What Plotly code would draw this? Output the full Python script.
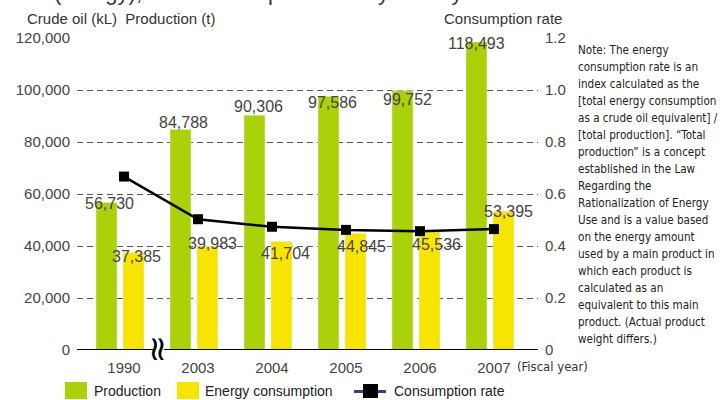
import plotly.graph_objects as go

# ---- data ----
years = ["1990", "2003", "2004", "2005", "2006", "2007"]
production = [56730, 84788, 90306, 97586, 99752, 118493]
energy_consumption = [37385, 39983, 41704, 44845, 45536, 53395]
consumption_rate = [0.667, 0.503, 0.474, 0.462, 0.457, 0.465]

left_ticks = [0, 20000, 40000, 60000, 80000, 100000, 120000]
right_ticks = [0, 0.2, 0.4, 0.6, 0.8, 1.0, 1.2]
right_ticktext = ["0", "0.2", "0.4", "0.6", "0.8", "1.0", "1.2"]

note_lines = [
    "Note: The energy",
    "consumption rate is an",
    "index calculated as the",
    "[total energy consumption",
    "as a crude oil equivalent] /",
    "[total production]. \u201cTotal",
    "production\u201d is a concept",
    "established in the Law",
    "Regarding the",
    "Rationalization of Energy",
    "Use and is a value based",
    "on the energy amount",
    "used by a main product in",
    "which each product is",
    "calculated as an",
    "equivalent to this main",
    "product. (Actual product",
    "weight differs.)",
]

# ---- styling / layout ----
W, H = 725, 400
L, R, T, B = 77, 187, 38, 50
PW, PH = W - L - R, H - T - B

GREEN = "#abd108"
YELLOW = "#f7e500"
FONT = "Liberation Sans, Arial, sans-serif"
NARROW = "DejaVu Sans Condensed, sans-serif"
TXT = "#444444"

# label nudges in pixels (dx, dy) relative to each bar's value
prod_dx = [-14, -14.5, -13, -13, -12, -17.5]
prod_dy = [-1, 7, 8.5, -6.5, -8.5, -2]
cons_dx = [13, 14.5, 14, 15.5, 17, 15]
cons_dy = [-4, 3, -12, -13, -13, -0.5]


def px(x):
    return (x - L) / PW


def py(y):
    return (H - B - y) / PH


xs = list(range(len(years)))

fig = go.Figure()
fig.add_trace(go.Bar(
    x=xs, y=production, name="Production", marker_color=GREEN,
    offset=-0.378, width=0.284, hoverinfo="y", showlegend=False,
))
fig.add_trace(go.Bar(
    x=xs, y=energy_consumption, name="Energy consumption", marker_color=YELLOW,
    offset=-0.0135, width=0.284, hoverinfo="y", showlegend=False,
))
fig.add_trace(go.Scatter(
    x=xs, y=consumption_rate, yaxis="y2", mode="lines+markers",
    name="Consumption rate", line=dict(color="black", width=2.5),
    marker=dict(symbol="square", size=10, color="black"), showlegend=False,
))

annotations = []
for i, v in enumerate(production):
    annotations.append(dict(
        x=i, y=v, text=f"{v:,}", showarrow=False, xshift=prod_dx[i], yshift=prod_dy[i],
        font=dict(family=FONT, size=16, color=TXT), yanchor="middle",
    ))
for i, v in enumerate(energy_consumption):
    annotations.append(dict(
        x=i, y=v, text=f"{v:,}", showarrow=False, xshift=cons_dx[i], yshift=cons_dy[i],
        font=dict(family=FONT, size=16, color=TXT), yanchor="middle",
    ))

# axis titles
annotations += [
    dict(xref="paper", yref="paper", x=px(25), y=py(18.5), xanchor="left", yanchor="middle",
         text="Crude oil (kL)  Production (t)", showarrow=False,
         font=dict(family=FONT, size=15, color="#333333")),
    dict(xref="paper", yref="paper", x=px(564), y=py(18.5), xanchor="right", yanchor="middle",
         text="Consumption rate", showarrow=False,
         font=dict(family=FONT, size=15, color="#333333")),
    dict(xref="paper", yref="paper", x=px(52), y=py(-8), xanchor="left", yanchor="middle",
         text="(energy), and consumption rate by fiscal year", showarrow=False,
         font=dict(family=FONT, size=22, color="#333333")),
    dict(xref="paper", yref="paper", x=px(515), y=py(366), xanchor="left", yanchor="middle",
         text="(Fiscal year)", showarrow=False,
         font=dict(family=NARROW, size=13, color="#333333")),
    # axis break mark between 1990 and 2003
    dict(xref="x", yref="paper", x=0.473, y=0, xanchor="center", yanchor="middle",
         text="\u2248", textangle=90, showarrow=False,
         font=dict(family="DejaVu Sans", size=34, color="black")),
]

# note block
for k, line in enumerate(note_lines):
    annotations.append(dict(
        xref="paper", yref="paper", x=px(576), y=py(50 + 17 * k), xanchor="left", yanchor="middle",
        text=line, showarrow=False, font=dict(family=NARROW, size=11.6, color="#222222"),
    ))

# legend text
for label, x0 in [("Production", 92), ("Energy consumption", 203), ("Consumption rate", 392)]:
    annotations.append(dict(
        xref="paper", yref="paper", x=px(x0), y=py(391), xanchor="left", yanchor="middle",
        text=label, showarrow=False, font=dict(family=FONT, size=14, color="#222222"),
    ))

shapes = [
    # solid base line
    dict(type="line", xref="paper", yref="y", x0=0, x1=1, y0=0, y1=0,
         line=dict(color="black", width=2), layer="above"),
    # gap in the base line under the break mark
    dict(type="rect", xref="paper", yref="paper", x0=px(154), x1=px(164), y0=py(353), y1=py(347),
         fillcolor="white", line=dict(width=0), layer="above"),
    # legend swatches
    dict(type="rect", xref="paper", yref="paper", x0=px(65), x1=px(87), y0=py(382), y1=py(399),
         fillcolor=GREEN, line=dict(width=0)),
    dict(type="rect", xref="paper", yref="paper", x0=px(177), x1=px(199), y0=py(382), y1=py(399),
         fillcolor=YELLOW, line=dict(width=0)),
    dict(type="line", xref="paper", yref="paper", x0=px(354), x1=px(386), y0=py(391.5), y1=py(391.5),
         line=dict(color="#3b3b8f", width=3)),
    dict(type="rect", xref="paper", yref="paper", x0=px(363), x1=px(378), y0=py(384), y1=py(398),
         fillcolor="black", line=dict(width=0)),
]

fig.update_layout(
    width=W, height=H, autosize=False,
    margin=dict(l=L, r=R, t=T, b=B, pad=0),
    paper_bgcolor="white", plot_bgcolor="white",
    barmode="overlay", showlegend=False,
    xaxis=dict(
        range=[-0.635, 5.595], tickvals=xs, ticktext=years, showgrid=False,
        zeroline=False, showline=False, ticks="", fixedrange=True, ticklabelstandoff=7,
        tickfont=dict(family=FONT, size=15, color=TXT),
    ),
    yaxis=dict(
        range=[0, 120000], tickvals=left_ticks, tickformat=",", showgrid=True,
        gridcolor="#555555", gridwidth=1, griddash="6px,4px", zeroline=False,
        showline=False, ticks="", ticklabelstandoff=6, fixedrange=True,
        tickfont=dict(family=FONT, size=15, color=TXT),
    ),
    yaxis2=dict(
        range=[0, 1.2], overlaying="y", side="right", tickvals=right_ticks,
        ticktext=right_ticktext, showgrid=False, zeroline=False, showline=False,
        ticks="", ticklabelstandoff=6, fixedrange=True,
        tickfont=dict(family=FONT, size=15, color=TXT),
    ),
    annotations=annotations,
    shapes=shapes,
)

fig.write_html("out.html")
